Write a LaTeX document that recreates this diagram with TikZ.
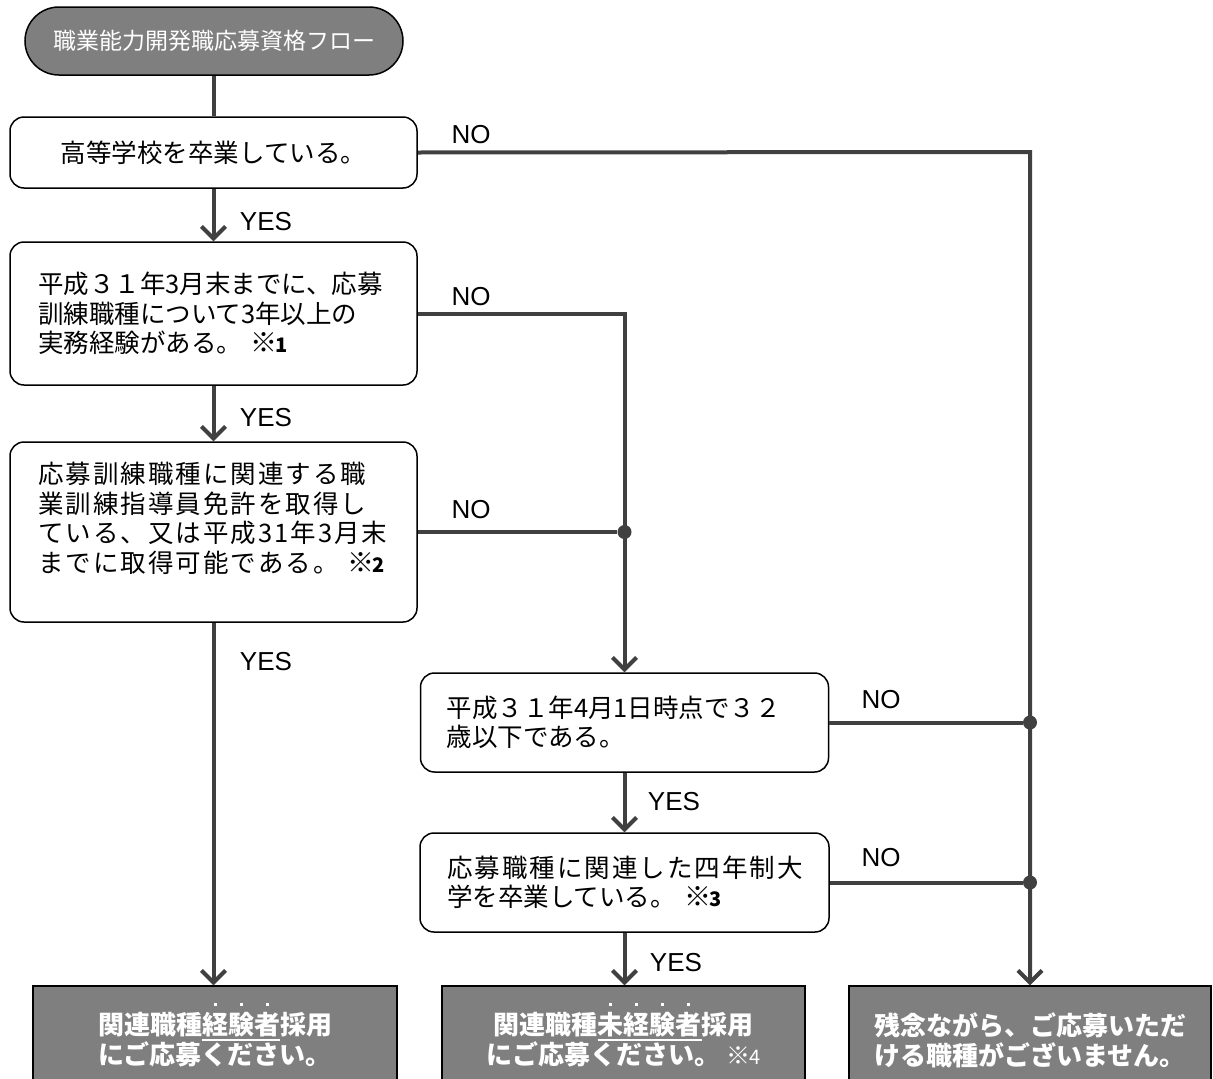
\documentclass[tikz,border=0pt]{standalone}
\usepackage{fontspec}
\setmainfont{Noto Sans CJK JP}
\newfontfamily\lat{Liberation Sans}
\newfontfamily\fw[RawFeature=+fwid]{Noto Sans CJK JP}
\usetikzlibrary{arrows.meta,shapes.misc}
\definecolor{lgray}{HTML}{404040}
\definecolor{endgray}{HTML}{7F7F7F}
\newcommand\bt[1]{\ooalign{#1\cr\hfil\raisebox{1.12em}{\rule{3pt}{3pt}}\hfil\cr}}
\newsavebox\ulbox
\newcommand\ul[1]{\sbox\ulbox{#1}\rlap{\raisebox{-0.22em}{\rule{\wd\ulbox}{1.6pt}}}\usebox\ulbox}
\newcommand\note[1]{{\bfseries\fontsize{27}{20}\selectfont ※\kern-2pt\fontsize{20}{20}\selectfont #1}}
\newcommand\wide{\addfontfeature{LetterSpace=8}}
\tikzset{
 x=1pt, y=-1pt,
 box/.style={draw=black, line width=1.5pt, rounded corners=14pt, fill=white,
   align=left, inner ysep=0pt, font=\fontsize{25.5}{29.5}\selectfont},
 endbox/.style={draw=black, line width=1.5pt, fill=endgray, text=white,
   align=center, minimum height=108pt, inner sep=0pt,
   font=\bfseries\fontsize{26}{30}\selectfont},
 conn/.style={draw=lgray, line width=4pt},
 arr/.style={conn, -{Straight Barb[length=12pt,width=24pt]}},
 lbl/.style={font=\lat\fontsize{26}{26}\selectfont, inner sep=0pt},
 jn/.style={circle, fill=lgray, inner sep=0pt, minimum size=14pt},
}
\begin{document}
\begin{tikzpicture}
\useasboundingbox (0,0) rectangle (1213,1079);
\clip (0,0) rectangle (1213,1079);
% start
\node[rounded rectangle, draw=black, line width=1.5pt, fill=endgray, text=white,
  minimum width=378pt, minimum height=68pt, inner sep=0pt,
  font=\fontsize{23}{23}\selectfont] (start) at (214,41) {職業能力開発職応募資格フロー};
% left boxes
\node[box, align=center, text width=407pt, inner xsep=0pt, minimum height=71pt] (b1) at (213.5,152.5)
  {高等学校を卒業している。};
\node[box, text width=351pt, inner xsep=28pt, minimum height=143pt] (b2) at (213.5,313.5)
  {平成{\fw 31}年3月末までに、応募\\訓練職種について3年以上の\\実務経験がある。 \note{1}};
\node[box, text width=351pt, inner xsep=28pt, minimum height=180pt] (b3) at (213.5,532)
  {{\wide 応募訓練職種に関連する職}\\{\wide 業訓練指導員免許を取得し}\\{\wide ている、又は平成31年3月末}\\{\wide までに取得可能である。} \note{2}\\\mbox{}};
% middle boxes
\node[box, text width=356pt, inner xsep=26pt, minimum height=99pt] (b4) at (624.5,722.5)
  {平成{\fw 31}年4月1日時点で{\fw 32}\\歳以下である。};
\node[box, text width=355pt, inner xsep=27pt, minimum height=99pt] (b5) at (624.5,882.5)
  {{\wide 応募職種に関連した四年制大}\\学を卒業している。 \note{3}};
% end boxes
\node[endbox, minimum width=364pt] (e1) at (215,1040)
  {関連職種\ul{\bt{経}\bt{験}\bt{者}}採用\\にご応募ください。};
\node[endbox, minimum width=363pt] (e2) at (623.5,1040)
  {関連職種\ul{\bt{未}\bt{経}\bt{験}\bt{者}}採用\\にご応募ください。 {\mdseries\fontsize{24}{18}\selectfont ※\kern-1pt\fontsize{20}{18}\selectfont 4}};
\node[endbox, minimum width=362pt] (e3) at (1030,1040)
  {残念ながら、ご応募いただ\\ける職種がございません。};
% connectors
\coordinate (c1) at (1030,152);
\draw[conn] (start.south) -- (start.south |- b1.north);
\draw[arr] (b1.south) -- (b1.south |- b2.north);
\draw[arr] (b2.south) -- (b2.south |- b3.north);
\draw[arr] (b3.south) -- (b3.south |- e1.north);
\draw[arr] (b2.east) -- (b2.east -| b4.north) -- (b4.north);
\node[jn] (j1) at (b4.north |- b3.east) {};
\draw[conn] (b3.east) -- (j1);
\draw[arr] (b4.south) -- (b4.south |- b5.north);
\draw[arr] (b5.south) -- (b5.south |- e2.north);
\draw[arr] (b1.east) -- (c1) -- (c1 |- e3.north);
\node[jn] (j2) at (c1 |- b4.east) {};
\node[jn] (j3) at (c1 |- b5.east) {};
\draw[conn] (b4.east) -- (j2);
\draw[conn] (b5.east) -- (j3);
% labels
\node[lbl] (n1) at (471,135) {NO};
\node[lbl] (n2) at (471,297) {NO};
\node[lbl] (n3) at (471,510) {NO};
\node[lbl] (n4) at (881,700) {NO};
\node[lbl] (n5) at (881,858) {NO};
\node[lbl] (y1) at (266,222) {YES};
\node[lbl] (y2) at (266,418) {YES};
\node[lbl] (y3) at (266,662) {YES};
\node[lbl] (y4) at (674,802) {YES};
\node[lbl] (y5) at (676,963) {YES};
\end{tikzpicture}
\end{document}
